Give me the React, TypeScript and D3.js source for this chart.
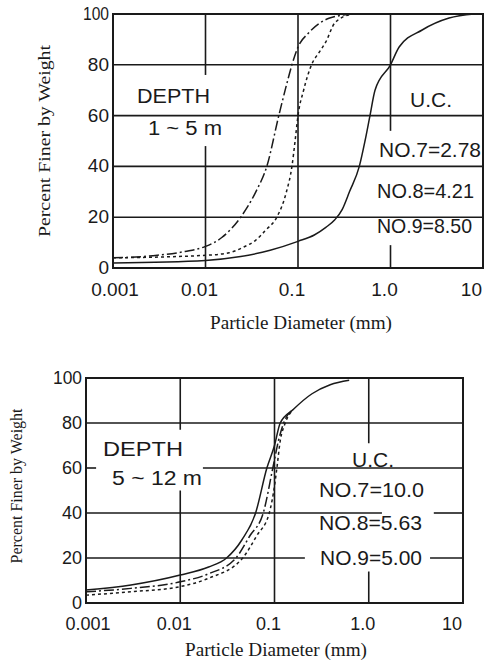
import React from 'react';
import * as d3 from 'd3';

// shared axes
const diameterTicks = [0.001, 0.01, 0.1, 1, 10];
const diameterLabels = ['0.001', '0.01', '0.1', '1.0', '10'];
const percentTicks = [0, 20, 40, 60, 80, 100];
const percentLabels = ['0', '20', '40', '60', '80', '100'];

// depth 1 ~ 5 m  [diameter (mm), percent finer]
const shallowNo7 = [[0.001, 4], [0.01, 5], [0.018, 6], [0.025, 8], [0.035, 11], [0.045, 15], [0.059, 20], [0.075, 30], [0.086, 40], [0.093, 50], [0.1, 60], [0.115, 70], [0.14, 80], [0.17, 85], [0.2, 89], [0.25, 96.5], [0.38, 100]];
const shallowNo8 = [[0.001, 4], [0.003, 5], [0.006, 6.5], [0.01, 8.5], [0.015, 12], [0.024, 20], [0.035, 30], [0.046, 40], [0.062, 60], [0.075, 72], [0.086, 80], [0.1, 87], [0.13, 92.5], [0.22, 98.4], [0.4, 100]];
const shallowNo9 = [[0.001, 2], [0.01, 3], [0.024, 4.5], [0.05, 7], [0.1, 10.5], [0.15, 13], [0.2, 16], [0.25, 19], [0.3, 23], [0.36, 30], [0.46, 40], [0.53, 50], [0.6, 60], [0.68, 70], [1.0, 80], [1.24, 87], [2.2, 93.7], [4.3, 98.4], [8, 100]];
const shallowUC = ['NO.7=2.78', 'NO.8=4.21', 'NO.9=8.50'];

// depth 5 ~ 12 m
const deepNo7 = [[0.001, 5.8], [0.003, 8], [0.01, 12.4], [0.02, 16], [0.031, 20], [0.045, 28], [0.063, 40], [0.083, 60], [0.1, 70], [0.115, 80], [0.158, 86], [0.25, 93], [0.39, 97], [0.62, 99]];
const deepNo8 = [[0.001, 5], [0.003, 6.5], [0.01, 9.4], [0.02, 13], [0.039, 20], [0.055, 30], [0.076, 40], [0.096, 60], [0.11, 72], [0.125, 80], [0.158, 86]];
const deepNo9 = [[0.001, 3.5], [0.003, 5], [0.01, 7.3], [0.02, 11], [0.046, 20], [0.065, 30], [0.088, 40], [0.1, 52], [0.106, 60], [0.115, 72], [0.13, 80], [0.158, 86]];
const deepUC = ['NO.7=10.0', 'NO.8=5.63', 'NO.9=5.00'];

const SANS = 'Liberation Sans, Arial, sans-serif';
const SERIF = 'Liberation Serif, Times New Roman, serif';
const INK = '#1a1a1a';

const DASHDOT = '10,3,2,3';
const DOTTED = '3,3';

function Panel(props: any) {
  const { box, series, vGrid, hGrid, depth, depthPos, uc, ucPos, xTitle, yTitle, tickSize } = props;
  const x = d3.scaleLog().domain([0.001, 10]).range([box.x0, box.x1]);
  const y = d3.scaleLinear().domain([0, 100]).range([box.y1, box.y0]);
  const line = d3.line<number[]>()
    .x(d => x(d[0]))
    .y(d => y(d[1]))
    .curve(d3.curveMonotoneX);

  return (
    <g>
      {/* grid, with the gaps left for the lettering */}
      {hGrid.map((g: any) => g.segs.map((s: number[], i: number) => (
        <line key={'h' + g.p + i} x1={x(s[0])} x2={x(s[1])} y1={y(g.p)} y2={y(g.p)} stroke={INK} strokeWidth={1.6} />
      )))}
      {vGrid.map((g: any) => g.segs.map((s: number[], i: number) => (
        <line key={'v' + g.d + i} x1={x(g.d)} x2={x(g.d)} y1={y(s[0])} y2={y(s[1])} stroke={INK} strokeWidth={1.6} />
      )))}
      <rect x={box.x0} y={box.y0} width={box.x1 - box.x0} height={box.y1 - box.y0} fill="none" stroke={INK} strokeWidth={2} />

      {series.map((s: any, i: number) => (
        <path key={i} d={line(s.data) || ''} fill="none" stroke={INK} strokeWidth={1.5} strokeDasharray={s.dash} />
      ))}

      {/* ticks */}
      {percentTicks.map((p, i) => (
        <text key={'yt' + p} x={box.x0 - 4} y={y(p) + 6} textAnchor="end" fontFamily={SANS} fontSize={tickSize} fill={INK}
          textLength={p === 100 ? box.x0 - box.labelLeft - 4 : undefined} lengthAdjust="spacingAndGlyphs">{percentLabels[i]}</text>
      ))}
      {diameterTicks.map((d, i) => {
        const last = i === diameterTicks.length - 1;
        const xx = i === 0 ? x(d) + 2 : last ? x(d) - 1 : x(d) - 6;
        return (
          <text key={'xt' + d} x={xx} y={box.y1 + box.xTickGap} textAnchor={last ? 'end' : 'middle'} fontFamily={SANS} fontSize={tickSize} fill={INK}>{diameterLabels[i]}</text>
        );
      })}

      {/* lettering inside the plot */}
      <text x={depthPos.x} y={depthPos.y} fontFamily={SANS} fontSize={21} fill={INK} textLength={depthPos.w} lengthAdjust="spacingAndGlyphs">DEPTH</text>
      <text x={depthPos.x2} y={depthPos.y2} fontFamily={SANS} fontSize={20} fill={INK} textLength={depthPos.w2} lengthAdjust="spacingAndGlyphs">{depth}</text>
      <text x={ucPos.x} y={ucPos.y} fontFamily={SANS} fontSize={21} fill={INK}>U.C.</text>
      {uc.map((t: string, i: number) => (
        <text key={t} x={ucPos.rows[i][0]} y={ucPos.rows[i][1]} fontFamily={SANS} fontSize={21} fill={INK}
          textLength={ucPos.rows[i][2]} lengthAdjust="spacingAndGlyphs">{t}</text>
      ))}

      {/* axis titles */}
      <text x={xTitle.x} y={xTitle.y} textAnchor="middle" fontFamily={SERIF} fontSize={18} fill={INK}
        textLength={182} lengthAdjust="spacingAndGlyphs">Particle Diameter (mm)</text>
      <text transform={`translate(${yTitle.x},${yTitle.y}) rotate(-90)`} textAnchor="middle" fontFamily={SERIF} fontSize={17} fill={INK}
        textLength={yTitle.len} lengthAdjust="spacingAndGlyphs">Percent Finer by Weight</text>
    </g>
  );
}

export default function App() {
  const full = (a: number, b: number) => [[a, b]];
  return (
    <svg width={484} height={661} style={{ position: 'absolute', left: 0, top: 0, background: '#fff' }}>
      <Panel
        box={{ x0: 113, x1: 483, y0: 14, y1: 268, xTickGap: 28, labelLeft: 83 }}
        tickSize={19}
        series={[
          { data: shallowNo7, dash: DOTTED },
          { data: shallowNo8, dash: DASHDOT },
          { data: shallowNo9, dash: null },
        ]}
        vGrid={[
          { d: 0.01, segs: [[0, 48], [76, 100]] },
          { d: 0.1, segs: full(0, 100) },
          { d: 1, segs: [[0, 9], [54, 100]] },
        ]}
        hGrid={[20, 40, 60, 80].map(p => ({ p, segs: full(0.001, 10) }))}
        depth="1 ~ 5 m"
        depthPos={{ x: 137, y: 103, w: 73, x2: 148, y2: 135, w2: 74 }}
        uc={shallowUC}
        ucPos={{ x: 410, y: 107, rows: [[379, 157, 102], [377, 198, 97], [377, 233, 95]] }}
        xTitle={{ x: 301, y: 329 }}
        yTitle={{ x: 50, y: 141, len: 192 }}
      />
      <Panel
        box={{ x0: 86, x1: 463, y0: 378, y1: 603, xTickGap: 27, labelLeft: 53 }}
        tickSize={18}
        series={[
          { data: deepNo7, dash: null },
          { data: deepNo8, dash: DASHDOT },
          { data: deepNo9, dash: DOTTED },
        ]}
        vGrid={[
          { d: 0.01, segs: [[0, 50], [77, 100]] },
          { d: 0.1, segs: full(0, 100) },
          { d: 1, segs: [[0, 14], [71, 100]] },
        ]}
        hGrid={[
          { p: 20, segs: [[0.001, 0.21], [4.47, 10]] },
          { p: 40, segs: [[0.001, 1.38], [4.9, 10]] },
          { p: 60, segs: [[0.001, 0.00128], [0.0174, 10]] },
          { p: 80, segs: full(0.001, 10) },
        ]}
        depth="5 ~ 12 m"
        depthPos={{ x: 103, y: 456, w: 80, x2: 112, y2: 485, w2: 90 }}
        uc={deepUC}
        ucPos={{ x: 352, y: 467, rows: [[319, 497, 105], [319, 530, 103], [320, 565, 102]] }}
        xTitle={{ x: 276, y: 656 }}
        yTitle={{ x: 22, y: 486, len: 155 }}
      />
    </svg>
  );
}
